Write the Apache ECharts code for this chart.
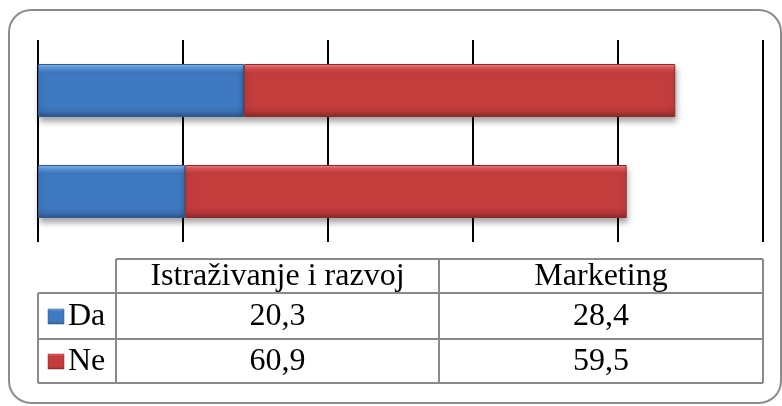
<!DOCTYPE html>
<html>
<head>
<meta charset="utf-8">
<script src="https://cdn.jsdelivr.net/npm/echarts@6/dist/echarts.min.js"></script>
<style>
  html, body { margin: 0; padding: 0; background: #ffffff; }
  #chart { width: 782px; height: 406px; }
</style>
</head>
<body>
<div id="chart"></div>
<script>
// Categories (bottom to top on the bar axis) and series values
const categories = ['Istraživanje i razvoj', 'Marketing'];
const seriesNames = ['Da', 'Ne'];
const daValues = [20.3, 28.4];
const neValues = [60.9, 59.5];
const axisMin = 0;
const axisMax = 100;
const axisStep = 20;

const FONT = 'Liberation Serif';

function bevel(top, light, mid, dark, bottom) {
  return new echarts.graphic.LinearGradient(0, 0, 0, 1, [
    { offset: 0, color: top },
    { offset: 0.07, color: light },
    { offset: 0.16, color: mid },
    { offset: 0.8, color: mid },
    { offset: 0.9, color: dark },
    { offset: 1, color: bottom }
  ]);
}
const blueFill = bevel('#86bdf5', '#5e9ade', '#3f79c0', '#3a6fb0', '#2a5288');
const redFill = bevel('#f48a8a', '#de5656', '#c43d3d', '#b43636', '#8a2828');
const blueKey = bevel('#86bdf5', '#5e9ade', '#3f79c0', '#3a6fb0', '#2a5288');
const redKey = bevel('#f48a8a', '#de5656', '#c43d3d', '#b43636', '#8a2828');

const fmt = v => v.toFixed(1).replace('.', ',');

// Data table under the plot
const tblLeft = 38, tblKeyRight = 116, tblMid = 439, tblRight = 763;
const rowY = [259, 293, 339, 383];
const gray = '#8a8a8a';
const tableEls = [];
function hline(x1, x2, y) {
  tableEls.push({ type: 'line', shape: { x1, y1: y, x2, y2: y }, style: { stroke: gray, lineWidth: 2 } });
}
function vline(x, y1, y2) {
  tableEls.push({ type: 'line', shape: { x1: x, y1, x2: x, y2 }, style: { stroke: gray, lineWidth: 2 } });
}
hline(tblKeyRight, tblRight, rowY[0]);
hline(tblLeft, tblRight, rowY[1]);
hline(tblLeft, tblRight, rowY[2]);
hline(tblLeft, tblRight, rowY[3]);
vline(tblLeft, rowY[1], rowY[3]);
vline(tblKeyRight, rowY[0], rowY[3]);
vline(tblMid, rowY[0], rowY[3]);
vline(tblRight, rowY[0], rowY[3]);

function cellText(text, x, y, align) {
  tableEls.push({
    type: 'text',
    style: {
      text, x, y, fill: '#000', fontFamily: FONT, fontSize: 32,
      align: align || 'center', verticalAlign: 'middle'
    }
  });
}
const colCenters = [(tblKeyRight + tblMid) / 2, (tblMid + tblRight) / 2];
categories.forEach((c, i) => cellText(c, colCenters[i], (rowY[0] + rowY[1]) / 2 + 1));
const rows = [daValues, neValues];
const keyFills = [blueKey, redKey];
rows.forEach((vals, r) => {
  const cy = (rowY[r + 1] + rowY[r + 2]) / 2 + 1;
  vals.forEach((v, i) => cellText(fmt(v), colCenters[i], cy));
  cellText(seriesNames[r], 68, cy, 'left');
  tableEls.push({
    type: 'rect',
    shape: { x: 48, y: cy - 8, width: 16, height: 15 },
    style: { fill: keyFills[r], stroke: r === 0 ? '#2a5288' : '#8a2828', lineWidth: 0.5 }
  });
});

const chart = echarts.init(document.getElementById('chart'), null, { renderer: 'canvas' });

chart.setOption({
  animation: false,
  backgroundColor: '#ffffff',
  grid: { left: 38, right: 19, top: 40, bottom: 164, containLabel: false },
  xAxis: {
    type: 'value', min: axisMin, max: axisMax, interval: axisStep,
    axisLine: { show: false }, axisTick: { show: false }, axisLabel: { show: false },
    splitLine: { show: true, lineStyle: { color: '#000', width: 2 } }
  },
  yAxis: {
    type: 'category', data: categories,
    axisLine: { show: false }, axisTick: { show: false }, axisLabel: { show: false },
    splitLine: { show: false }
  },
  series: [
    {
      name: seriesNames[0], type: 'bar', stack: 'total', data: daValues, barWidth: 53,
      itemStyle: {
        color: blueFill, borderColor: '#2f5c96', borderWidth: 1,
        shadowColor: 'rgba(0,0,0,0.35)', shadowBlur: 6, shadowOffsetY: 4, shadowOffsetX: 1
      }
    },
    {
      name: seriesNames[1], type: 'bar', stack: 'total', data: neValues, barWidth: 53,
      itemStyle: {
        color: redFill, borderColor: '#8e2a2a', borderWidth: 1,
        shadowColor: 'rgba(0,0,0,0.35)', shadowBlur: 6, shadowOffsetY: 4, shadowOffsetX: 1
      }
    }
  ],
  graphic: [
    {
      type: 'rect', silent: true, z: -10,
      shape: { x: 9, y: 10, width: 772, height: 393, r: 22 },
      style: { fill: 'none', stroke: '#8c8c8c', lineWidth: 2 }
    },
    { type: 'group', children: tableEls }
  ]
});
</script>
</body>
</html>
